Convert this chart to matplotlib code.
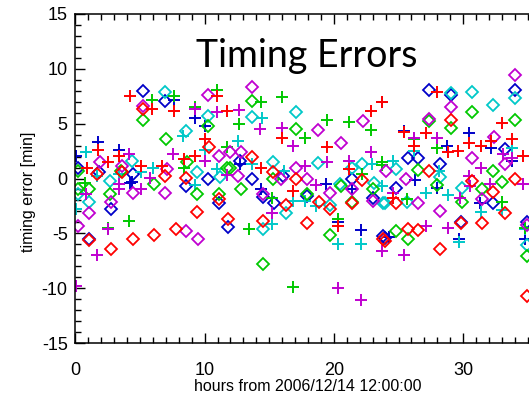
import matplotlib
matplotlib.use("Agg")
import matplotlib.pyplot as plt
from matplotlib.ticker import MultipleLocator

# timing errors [min] vs hours from 2006/12/14 12:00:00
# five stations (colours), two kinds of estimate each (diamond / plus)
red_d_h = [5.26, 10.36, 6.94, 8.6, 1.7, 3.6, 11.14, 9.44, 1.06, 4.44, 6.11, 7.79, 11.8, 2.74,
           13.64, 15.31, 17.04, 22.15, 16.27, 18.85, 19.7, 21.38, 14.54, 17.9, 23.82,
           29.06, 27.35, 34.0, 30.7, 24.78, 33.23, 31.48, 32.33, 29.83, 26.48, 25.7, 23.96,
           28.2, 34.9]
red_d_m = [6.3, 2.84, 0.24, 0.09, 0.4, 0.55, -1.9, -3.05, -5.6, -5.49, -5.19, -4.64, -3.72, -6.47,
           1.92, 0.6, 0.0, -0.1, -2.44, -2.14, -2.81, -2.2, -3.88, -4.03, -5.5,
           5.36, 0.7, 0.0, -0.2, -2.26, -3.11, -4.03, -1.22, -4.1, -4.7, -4.58, -5.7,
           -6.41, -10.67]

red_p_h = [4.23, 5.9, 7.63, 10.93, 11.7, 10.03, 9.26, 8.4, 1.78, 3.4, 2.55, 0.88, 5.08, 6.7,
           14.36, 16.01, 19.44, 22.87, 23.7, 16.86, 20.34, 21.2, 24.6, 25.44, 27.1, 26.22,
           27.95, 28.8, 29.62, 30.45, 31.38, 32.15, 32.97, 33.8, 34.65]
red_p_m = [7.5, 6.34, 6.19, 7.5, 6.19, 3.6, 2.07, 1.77, 2.62, 2.07, 1.46, 1.0, 1.15, 1.1,
           1.0, 3.66, 2.84, 6.19, 6.95, -1.13, -4.3, 0.85, -1.74, 4.2, 4.14, 2.96,
           7.93, 2.38, 2.53, 3.2, 2.93, 3.4, 5.06, 3.6, 2.07]

green_d_h = [5.26, 6.99, 10.29, 11.7, 0.23, 3.5, 8.66, 0.23, 1.08, 2.68, 6.09, 9.44, 11.14,
             13.69, 17.04, 11.96, 15.31, 12.82, 17.9, 20.55, 21.38, 23.05, 19.7, 14.54,
             29.06, 30.7, 34.0, 27.35, 26.48, 32.33, 33.0, 27.95, 29.88, 31.48, 24.78, 25.7,
             34.9]
green_d_m = [5.33, 3.6, 4.81, 1.0, 0.7, 0.7, 1.46, -0.98, -0.92, -1.44, -0.52, -1.44, -1.44,
             7.1, 4.51, 1.0, -0.06, -0.98, -1.44, -0.67, -2.14, -0.98, -5.19, -7.84,
             4.57, 6.1, 5.36, 5.2, 0.8, 0.7, -0.3, -0.6, -2.14, -0.98, -4.79, -5.55,
             -7.1]

green_p_h = [5.9, 7.63, 10.93, 9.26, 11.7, 8.4, 0.75, 4.18, 2.55, 14.36, 16.01, 12.66, 17.76,
             19.44, 21.17, 22.87, 23.74, 22.15, 15.19, 13.43, 20.34, 16.86, 26.22, 27.95,
             23.74, 25.63, 33.02, 34.8]
green_p_m = [7.2, 7.5, 8.1, 6.5, 2.84, 1.0, -0.43, -3.88, -4.49, 6.95, 7.47, 4.97, 3.69,
             5.36, 5.12, 4.45, 1.22, 0.39, -1.74, -4.64, -3.66, -9.88, 3.6, 2.75,
             1.46, -1.9, -2.14, -4.5]

blue_d_h = [5.26, 6.94, 10.29, 0.23, 1.86, 4.44, 8.6, 11.14, 2.74, 1.06, 11.8, 12.74, 13.69,
            21.38, 16.1, 14.54, 15.39, 17.9, 23.05, 23.82, 27.35, 29.06, 34.0, 25.7, 26.48,
            28.2, 33.2, 24.78, 32.33, 29.83, 23.96, 34.9]
blue_d_m = [7.96, 7.04, -0.06, 1.0, 0.55, 0.39, -0.67, -2.2, -2.74, -5.49, -4.4, 1.6, -0.06,
            -0.06, 0.24, -1.7, -2.26, -1.6, -1.8, -5.25, 8.08, 7.6, 8.1, 1.83, 1.83,
            1.3, 2.68, -0.83, -2.2, -3.97, -5.4, -3.97]

blue_p_h = [7.63, 9.26, 10.0, 1.78, 0.05, 3.4, 4.4, 4.23, 23.7, 12.74, 14.36, 19.4, 21.38,
            20.34, 22.1, 25.44, 28.72, 30.45, 32.15, 33.8, 27.95, 26.3, 31.3, 29.68, 24.3,
            34.77]
blue_p_m = [7.2, 5.49, 4.8, 3.29, 2.07, 2.6, -0.3, -0.37, 7.0, 1.3, -0.98, -0.5, -0.98,
            -4.0, -4.7, 4.36, 2.93, 4.14, 2.75, 1.6, -0.83, -0.1, -2.2, -5.49, -5.3,
            -5.55]

cyan_d_h = [6.94, 8.6, 10.29, 4.36, 9.39, 2.68, 0.23, 1.06, 11.2, 13.64, 17.04, 15.31, 18.8,
            21.4, 22.2, 16.27, 14.54, 19.7, 20.5, 23.1, 23.82, 29.06, 30.7, 32.33, 34.0,
            28.2, 24.78, 23.96, 25.63, 29.88, 34.9]
cyan_d_m = [7.87, 4.36, 5.67, 1.6, 0.55, -0.2, -1.44, -2.14, 0.1, 5.58, 6.04, 1.52, 1.37,
            1.0, 1.3, -3.11, -4.6, -2.4, -0.5, -0.4, -2.26, 7.8, 7.87, 6.71, 7.35,
            0.1, 0.85, -2.26, -2.14, -0.9, -6.1]

cyan_p_h = [8.35, 10.03, 10.93, 0.83, 5.08, 6.03, 1.65, 3.4, 9.26, 0.05, 14.41, 12.6, 13.64,
            16.16, 22.93, 16.86, 17.76, 18.59, 15.19, 20.34, 22.1, 26.22, 33.8, 28.1, 24.6,
            23.74, 27.1, 28.8, 31.38, 33.02, 29.68, 34.8]
cyan_p_m = [3.84, 2.6, 0.85, 2.44, 0.55, 1.0, 0.24, 0.39, -0.61, -2.74, 5.49, 3.44, 1.3,
            0.7, 1.3, -2.05, -2.05, -2.5, -4.18, -6.01, -6.01, 2.53, 2.75, 0.7, 1.6,
            -0.67, -1.35, -1.53, -3.05, -2.9, -5.8, -4.6]

mag_d_h = [5.26, 10.29, 11.14, 1.91, 3.59, 7.07, 4.44, 6.94, 2.74, 1.06, 0.23, 8.6, 9.47,
           13.64, 18.8, 20.55, 22.27, 11.96, 12.81, 17.04, 12.6, 15.9, 17.9, 14.54, 19.7,
           21.38, 23.05, 34.0, 29.06, 27.35, 32.4, 30.7, 33.2, 24.0, 25.55, 26.48, 28.2,
           31.48, 34.9]
mag_d_m = [6.64, 7.65, 2.07, 1.46, 1.15, 0.85, -1.35, -1.28, -2.14, -3.11, -4.34, -4.79, -5.49,
           8.33, 4.42, 3.23, 5.27, 2.38, 2.38, 1.0, 0.24, -0.06, -0.06, -1.44, -1.28,
           -0.98, -2.05, 9.45, 6.5, 5.43, 3.75, 1.83, 1.3, 0.7, 0.0, -2.2, -2.96,
           -1.9, -4.2]

mag_p_h = [9.26, 10.93, 10.03, 4.18, 7.58, 11.75, 5.78, 3.4, 0.83, 3.4, 5.05, 2.55, 1.7, 0.05,
           12.66, 14.28, 16.01, 16.86, 17.76, 19.44, 21.17, 22.87, 18.59, 15.19, 23.7,
           20.34, 22.1, 26.22, 27.95, 33.1, 33.8, 31.38, 30.45, 24.6, 29.74, 30.53, 32.07,
           34.65, 28.8, 27.1, 25.44]
mag_p_m = [6.3, 6.04, 1.6, 2.2, 2.2, 0.3, 0.09, -0.5, -1.44, -0.92, -0.98, -4.6, -7.02, -9.76,
           6.28, 4.51, 4.6, 2.93, 1.1, 1.52, 1.6, 2.38, -0.61, -3.11, -6.62,
           -9.97, -11.04, 3.7, 3.66, 2.22, 1.9, 1.0, 0.24, -1.3, -1.74, -0.67, -0.52,
           -0.52, -4.49, -4.34, -7.02]

RED, GREEN, BLUE, CYAN, MAG = "#ff0000", "#00c800", "#0000c8", "#00c8c8", "#c000d0"

plt.rcParams["font.family"] = "Liberation Sans"
plt.rcParams["axes.unicode_minus"] = False

fig = plt.figure(figsize=(5.29, 3.96), dpi=100)
# axes run past the right edge of the picture, like the original
ax = fig.add_axes([75.3 / 529, 53 / 396, 36 * 12.93 / 529, 329 / 396])

series = [
    (blue_d_h, blue_d_m, "D", BLUE), (blue_p_h, blue_p_m, "+", BLUE),
    (cyan_d_h, cyan_d_m, "D", CYAN), (cyan_p_h, cyan_p_m, "+", CYAN),
    (green_d_h, green_d_m, "D", GREEN), (green_p_h, green_p_m, "+", GREEN),
    (mag_d_h, mag_d_m, "D", MAG), (mag_p_h, mag_p_m, "+", MAG),
    (red_d_h, red_d_m, "D", RED), (red_p_h, red_p_m, "+", RED),
]
for h, m, mk, c in series:
    if mk == "D":
        ax.plot(h, m, linestyle="none", marker="D", markersize=5.8,
                markerfacecolor="none", markeredgecolor=c, markeredgewidth=1.3)
    else:
        ax.plot(h, m, linestyle="none", marker="+", markersize=8.5,
                markeredgecolor=c, markeredgewidth=1.4)

ax.set_xlim(0, 36)
ax.set_ylim(-15, 15)
ax.xaxis.set_major_locator(MultipleLocator(10))
ax.xaxis.set_minor_locator(MultipleLocator(1))
ax.yaxis.set_major_locator(MultipleLocator(5))
ax.yaxis.set_minor_locator(MultipleLocator(1))
ax.tick_params(which="both", direction="in", top=True, right=True, width=1.0)
ax.tick_params(which="major", length=7, labelsize=13)
ax.tick_params(which="minor", length=4)
ax.tick_params(axis="x", which="major", pad=13.5)
ax.tick_params(axis="y", which="major", pad=5.5)
for s in ax.spines.values():
    s.set_linewidth(1.1)

ax.set_xlabel("hours from 2006/12/14 12:00:00", fontsize=11.5, labelpad=0)
ax.set_ylabel("timing error [min]", fontsize=11.5)
ax.yaxis.set_label_coords(-0.085, 0.46)

fig.text(306.5 / 529, 1 - 67 / 396, "Timing Errors", family="Lato", fontsize=27,
         ha="center", va="baseline")

fig.savefig("out.png", dpi=100)
